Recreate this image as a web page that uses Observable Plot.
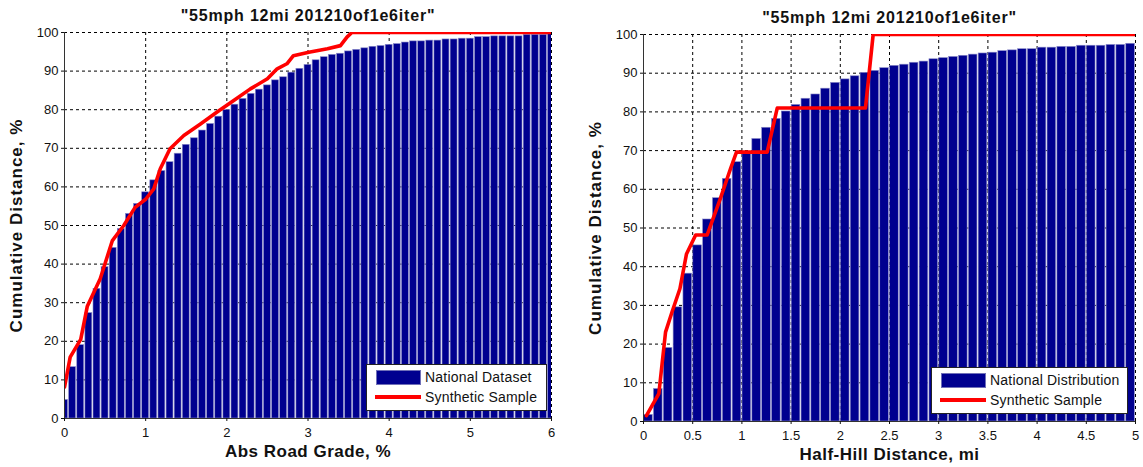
<!DOCTYPE html>
<html>
<head>
<meta charset="utf-8">
<script src="https://cdn.jsdelivr.net/npm/d3@7"></script>
<script src="https://cdn.jsdelivr.net/npm/@observablehq/plot@0.6"></script>
<style>
  html, body { margin: 0; padding: 0; background: white; }
  #wrap { position: relative; width: 1143px; height: 467px; display: flex; font-family: "Liberation Sans", Arial, sans-serif; }
  .legend { position: absolute; background: white; border: 1px solid #222; box-sizing: border-box; font-size: 14px; letter-spacing: 0.2px; }
  .legend .patch { position: absolute; background: #00008f; border: 1px solid #7070b8; box-sizing: border-box; }
  .legend .line { position: absolute; height: 4px; background: #ff0000; }
  .legend .lab { position: absolute; line-height: 16px; white-space: nowrap; color: #111; }
</style>
</head>
<body>
<div id="wrap"></div>
<script>
// ---------- data ----------
const titleText = "\"55mph 12mi 201210of1e6iter\"";

// Left panel: bins centred at 0, 0.1, ..., 6.0 (% grade)
const gradeBinCenters = d3.range(0, 61).map(i => i / 10);
const gradeNational = [
  4.8, 13.3, 19.0, 27.3, 33.6, 39.2, 44.2, 49.1, 53.0, 55.6,
  58.6, 61.7, 64.1, 66.4, 68.6, 70.9, 72.6, 74.6, 76.3, 78.2,
  79.9, 81.3, 82.8, 84.1, 85.2, 86.3, 87.6, 88.4, 89.6, 90.6,
  91.6, 92.8, 93.6, 94.2, 94.5, 95.1, 95.5, 95.9, 96.3, 96.5,
  96.8, 97.0, 97.4, 97.7, 97.7, 97.9, 97.9, 98.2, 98.2, 98.4,
  98.4, 98.8, 98.8, 99.0, 99.0, 99.0, 99.0, 99.4, 99.4, 99.4,
  99.6
];
const gradeSynthX = [0, 0.07, 0.2, 0.28, 0.44, 0.59, 0.73, 0.87, 1.0, 1.1, 1.18, 1.3, 1.47, 1.675, 1.88, 2.085, 2.29, 2.5, 2.62, 2.74, 2.82, 3.01, 3.24, 3.40, 3.48, 3.54, 6];
const gradeSynthY = [8.1, 15.9, 20.5, 29, 36.2, 46.1, 50, 54.7, 56.8, 59.5, 64.7, 69.9, 73.3, 76.3, 79.4, 82.4, 85.4, 88.0, 90.6, 91.9, 94.0, 94.9, 95.8, 96.6, 98.8, 100, 100];
const gradeTicks = [0, 1, 2, 3, 4, 5, 6];

// Right panel: bins [0,0.1), ..., [4.9,5.0) (mi)
const hillBinStarts = d3.range(0, 50).map(i => i / 10);
const hillNational = [
  1.7, 8.4, 19.0, 29.5, 38.2, 45.5, 52.2, 57.7, 62.7, 67.0,
  69.1, 73.0, 75.9, 78.2, 80.1, 81.8, 83.4, 84.5, 86.0, 87.5,
  88.4, 89.2, 90.1, 90.6, 91.3, 91.9, 92.2, 92.7, 93.0, 93.6,
  93.9, 94.2, 94.5, 94.8, 95.1, 95.3, 95.7, 95.9, 96.2, 96.2,
  96.6, 96.6, 96.8, 96.8, 97.1, 97.1, 97.1, 97.3, 97.3, 97.6
];
const hillSynthX = [0.03, 0.156, 0.224, 0.29, 0.37, 0.437, 0.53, 0.647, 0.78, 0.884, 0.945, 1.257, 1.359, 2.256, 2.334, 5];
const hillSynthY = [1.5, 7.2, 23.1, 28.3, 34.3, 43.3, 48.2, 48.2, 57.5, 65.3, 69.6, 69.6, 81.0, 81.0, 100, 100];
const hillTicks = [0, 0.5, 1, 1.5, 2, 2.5, 3, 3.5, 4, 4.5, 5];

const yTicks = [0, 10, 20, 30, 40, 50, 60, 70, 80, 90, 100];

// ---------- drawing ----------
const BAR = "#00008f";
const style = { fontFamily: "'Liberation Sans', Arial, sans-serif", fontSize: "13px", color: "#111", background: "white", overflow: "visible" };

function panel({ width, marginLeft, marginRight, marginTop, marginBottom, domain, ticks, bars, line, xLabel }) {
  return Plot.plot({
    width, height: 467, marginLeft, marginRight, marginTop, marginBottom,
    style,
    x: { domain, ticks, tickFormat: d => String(d) },
    y: { domain: [0, 100], ticks: yTicks },
    marks: [
      Plot.gridX(ticks, { stroke: "black", strokeOpacity: 1, strokeDasharray: "3,3", strokeWidth: 1 }),
      Plot.gridY(yTicks, { stroke: "black", strokeOpacity: 1, strokeDasharray: "3,3", strokeWidth: 1 }),
      Plot.rectY(bars, { x1: "x1", x2: "x2", y: "v", fill: BAR, stroke: "#8a8ac8", strokeWidth: 0.6, insetLeft: 0.6, insetRight: 0.6, clip: true }),
      Plot.line(line, { x: "x", y: "y", stroke: "#ff0000", strokeWidth: 3.6, strokeLinejoin: "round", clip: true }),
      Plot.ruleX([domain[0]], { stroke: "#333", strokeWidth: 1 }),
      Plot.ruleY([0], { stroke: "#333", strokeWidth: 1 }),
      Plot.axisX({ ticks, tickFormat: d => String(d), tickSize: 3, tickPadding: 6, label: xLabel, labelAnchor: "center", labelArrow: "none", labelOffset: 38, fontSize: 13 }),
      Plot.axisY({ ticks: yTicks, tickSize: 3, tickPadding: 3, label: "Cumulative Distance, %", labelAnchor: "center", labelArrow: "none", labelOffset: 55 }),
      Plot.text([titleText], { frameAnchor: "top", dy: -23, fontWeight: "bold", fontSize: 16, fill: "#111", style: "letter-spacing:0.8px" })
    ]
  });
}

const leftBars = gradeBinCenters.map((c, i) => ({ x1: c - 0.05, x2: c + 0.05, v: gradeNational[i] }));
const leftLine = gradeSynthX.map((x, i) => ({ x, y: gradeSynthY[i] }));
const rightBars = hillBinStarts.map((s, i) => ({ x1: s, x2: s + 0.1, v: hillNational[i] }));
const rightLine = hillSynthX.map((x, i) => ({ x, y: hillSynthY[i] }));

const wrap = document.getElementById("wrap");
const left = panel({ width: 580, marginLeft: 64, marginRight: 29, marginTop: 32, marginBottom: 49, domain: [0, 6], ticks: gradeTicks, bars: leftBars, line: leftLine, xLabel: "Abs Road Grade, %" });
const right = panel({ width: 563, marginLeft: 63, marginRight: 8, marginTop: 34, marginBottom: 46, domain: [0, 5], ticks: hillTicks, bars: rightBars, line: rightLine, xLabel: "Half-Hill Distance, mi" });
wrap.appendChild(left);
wrap.appendChild(right);

// bold, larger axis labels; spaced title
for (const svg of [left, right]) {
  svg.querySelectorAll("[aria-label='x-axis label'] text").forEach(t => {
    t.setAttribute("font-weight", "bold");
    t.setAttribute("font-size", "17");
    t.style.letterSpacing = "0.5px";
  });
  svg.querySelectorAll("[aria-label='y-axis label'] text").forEach(t => {
    t.setAttribute("font-weight", "bold");
    t.setAttribute("font-size", "17");
    t.style.letterSpacing = "1px";
  });
  svg.querySelectorAll("[aria-label='text'] text").forEach(t => { t.style.letterSpacing = "0.8px"; });
}

function legend(box, labelA, labelB) {
  const div = document.createElement("div");
  div.className = "legend";
  Object.assign(div.style, { left: box.x + "px", top: box.y + "px", width: box.w + "px", height: box.h + "px" });
  div.innerHTML =
    `<div class="patch" style="left:9px;top:5px;width:45px;height:15px"></div>` +
    `<div class="lab" style="left:58px;top:4px">${labelA}</div>` +
    `<div class="line" style="left:8px;top:30px;width:46px"></div>` +
    `<div class="lab" style="left:58px;top:24px">${labelB}</div>`;
  wrap.appendChild(div);
}
legend({ x: 366, y: 364, w: 181, h: 47 }, "National Dataset", "Synthetic Sample");
legend({ x: 931, y: 367, w: 197, h: 47 }, "National Distribution", "Synthetic Sample");
</script>
</body>
</html>
